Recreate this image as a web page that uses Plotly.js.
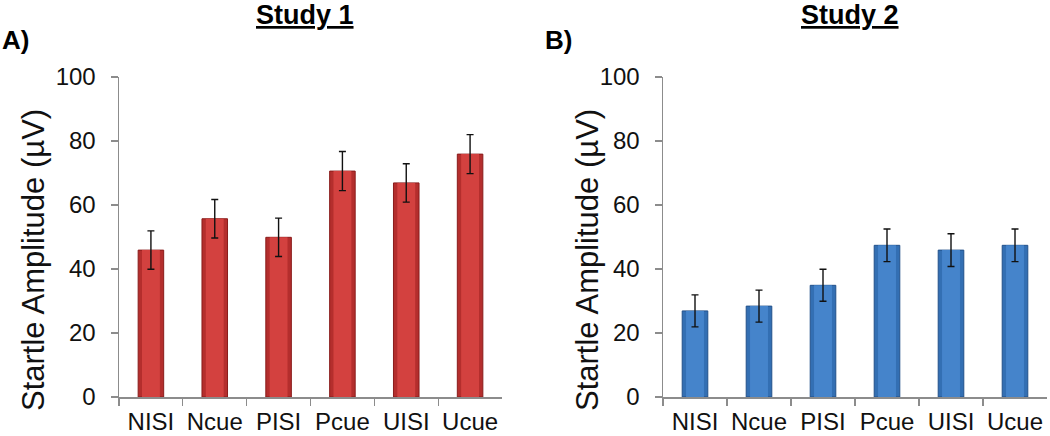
<!DOCTYPE html>
<html>
<head>
<meta charset="utf-8">
<script src="https://cdn.plot.ly/plotly-3.0.1.min.js"></script>
<style>
html,body{margin:0;padding:0;background:#fff;}
#chart{width:1050px;height:436px;}
</style>
</head>
<body>
<div id="chart"></div>
<script>
const categories = ["NISI", "Ncue", "PISI", "Pcue", "UISI", "Ucue"];
const study1Values = [45.9, 55.7, 49.9, 70.6, 66.9, 75.9];
const study1Errors = [6.0, 6.0, 6.0, 6.1, 6.0, 6.1];
const study2Values = [26.9, 28.4, 34.9, 47.4, 45.9, 47.4];
const study2Errors = [5.0, 5.0, 5.0, 5.1, 5.1, 5.1];
const yTicks = [0, 20, 40, 60, 80, 100];
const panelTitles = ["Study 1", "Study 2"];
const panelLetters = ["A)", "B)"];
const yTitle = "Startle Amplitude (µV)";

const FONT = "Liberation Sans, Arial, sans-serif";

function edgeTrace(vals, color, edge, xa, ya) {
  return {
    type: "bar", x: categories, y: vals, xaxis: xa, yaxis: ya,
    width: 0.4,
    marker: {color: color, line: {color: edge, width: 1}},
    hoverinfo: "none", showlegend: false
  };
}
function coreTrace(vals, errs, color, xa, ya) {
  return {
    type: "bar", x: categories, y: vals, xaxis: xa, yaxis: ya,
    width: 0.28,
    marker: {color: color, line: {width: 0}},
    error_y: {type: "data", array: errs, visible: true, color: "#111", thickness: 1.4, width: 3.5},
    hoverinfo: "none", showlegend: false
  };
}

const data = [
  edgeTrace(study1Values, "#b42e2d", "#8a1c1b", "x", "y"),
  coreTrace(study1Values, study1Errors, "#d3413f", "x", "y"),
  edgeTrace(study2Values, "#336fb3", "#22508a", "x2", "y2"),
  coreTrace(study2Values, study2Errors, "#4584cb", "x2", "y2")
];

function yax() {
  return {
    range: [0, 100], tickvals: yTicks, ticktext: yTicks.map(String),
    showgrid: false, zeroline: false, showline: true, linecolor: "#8c8c8c", linewidth: 1.5,
    ticks: "outside", ticklen: 7, tickcolor: "#8c8c8c", tickwidth: 1.2,
    tickfont: {family: FONT, size: 24, color: "#111"},
    ticklabelstandoff: 10,
    automargin: false, fixedrange: true
  };
}
function xax(domain, anchor) {
  return {
    domain: domain, anchor: anchor, type: "category",
    showgrid: false, zeroline: false, showline: true, linecolor: "#8c8c8c", linewidth: 1.5,
    ticks: "outside", ticklen: 7, tickcolor: "#8c8c8c", tickwidth: 1.2, tickson: "boundaries",
    tickangle: 0, ticklabelstandoff: 3,
    tickfont: {family: FONT, size: 24, color: "#111"},
    automargin: false, fixedrange: true
  };
}

const layout = {
  width: 1050, height: 436,
  margin: {l: 0, r: 0, t: 77, b: 39},
  paper_bgcolor: "#fff", plot_bgcolor: "#fff",
  barmode: "overlay",
  xaxis: xax([119/1050, 502/1050], "y"),
  yaxis: yax(),
  xaxis2: xax([663/1050, 1047/1050], "y2"),
  yaxis2: Object.assign(yax(), {anchor: "x2"}),
  annotations: [
    {text: "<b><u>" + panelTitles[0] + "</u></b>", xref: "paper", yref: "paper", x: 305/1050, y: 1, yshift: 62, xanchor: "center", yanchor: "middle", showarrow: false, font: {family: FONT, size: 27, color: "#000"}},
    {text: "<b><u>" + panelTitles[1] + "</u></b>", xref: "paper", yref: "paper", x: 850/1050, y: 1, yshift: 62, xanchor: "center", yanchor: "middle", showarrow: false, font: {family: FONT, size: 27, color: "#000"}},
    {text: "<b>" + panelLetters[0] + "</b>", xref: "paper", yref: "paper", x: 0, y: 1, yshift: 37, xanchor: "left", yanchor: "middle", showarrow: false, font: {family: FONT, size: 26, color: "#000"}},
    {text: "<b>" + panelLetters[1] + "</b>", xref: "paper", yref: "paper", x: 543/1050, y: 1, yshift: 37, xanchor: "left", yanchor: "middle", showarrow: false, font: {family: FONT, size: 26, color: "#000"}},
    {text: yTitle, xref: "paper", yref: "paper", x: 33/1050, y: (436 - 260 - 39) / (436 - 77 - 39), xanchor: "center", yanchor: "middle", textangle: -90, showarrow: false, font: {family: FONT, size: 31, color: "#111"}},
    {text: yTitle, xref: "paper", yref: "paper", x: 587/1050, y: (436 - 260 - 39) / (436 - 77 - 39), xanchor: "center", yanchor: "middle", textangle: -90, showarrow: false, font: {family: FONT, size: 31, color: "#111"}}
  ]
};

Plotly.newPlot("chart", data, layout, {displayModeBar: false, staticPlot: true});
</script>
</body>
</html>
